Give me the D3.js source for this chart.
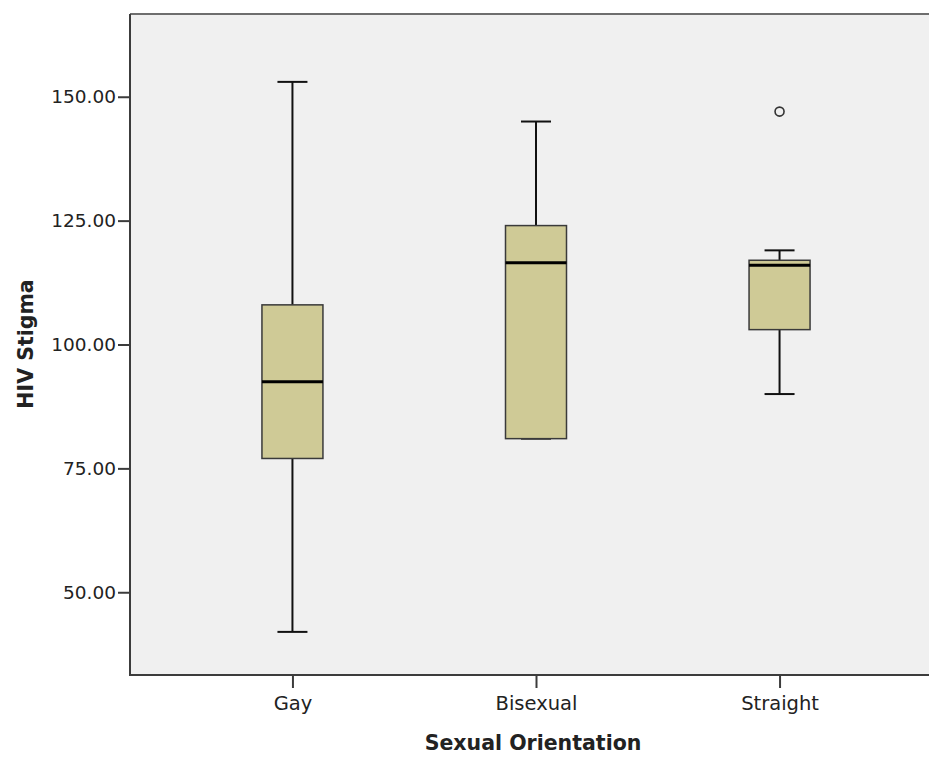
<!DOCTYPE html>
<html>
<head>
<meta charset="utf-8">
<script src="https://cdn.jsdelivr.net/npm/d3@7"></script>
<style>
  html, body { margin: 0; padding: 0; background: #fff; }
  svg { display: block; }
</style>
</head>
<body>
<svg id="chart" width="929" height="757"></svg>
<script>
const categories = ["Gay", "Bisexual", "Straight"];
const mins     = [42, 81, 90];
const q1s      = [77, 81, 103];
const medians  = [92.5, 116.5, 116];
const q3s      = [108, 124, 117];
const maxs     = [153, 145, 119];
const outliers = [[], [], [147]];
const yTicks   = [50, 75, 100, 125, 150];
const xTitle = "Sexual Orientation";
const yTitle = "HIV Stigma";

(function () {
const svg = d3.select("#chart");
const pLeft = 130, pRight = 942, pTop = 14, pBottom = 675;
const font = "'DejaVu Sans', Verdana, sans-serif";

const x = d3.scalePoint().domain(categories).range([pLeft, pRight]).padding(0.667);
const y = d3.scaleLinear().domain([33.3, 166.7]).range([pBottom, pTop]);

svg.append("rect").attr("x", pLeft).attr("y", pTop)
  .attr("width", pRight - pLeft).attr("height", pBottom - pTop)
  .attr("fill", "#f0f0f0");
svg.append("line").attr("x1", pLeft).attr("x2", pRight).attr("y1", pTop).attr("y2", pTop)
  .attr("stroke", "#6e6e6e").attr("stroke-width", 2);

const boxW = 61, capW = 30;
const data = categories.map((c, i) => ({c, min: mins[i], q1: q1s[i], med: medians[i], q3: q3s[i], max: maxs[i], out: outliers[i]}));

const g = svg.append("g");
data.forEach(d => {
  const cx = x(d.c);
  g.append("line").attr("x1", cx).attr("x2", cx).attr("y1", y(d.max)).attr("y2", y(d.q3))
    .attr("stroke", "#111").attr("stroke-width", 2);
  g.append("line").attr("x1", cx).attr("x2", cx).attr("y1", y(d.q1)).attr("y2", y(d.min))
    .attr("stroke", "#111").attr("stroke-width", 2);
  [d.max, d.min].forEach(v => {
    g.append("line").attr("x1", cx - capW / 2).attr("x2", cx + capW / 2)
      .attr("y1", y(v)).attr("y2", y(v))
      .attr("stroke", "#111").attr("stroke-width", 2);
  });
  g.append("rect").attr("x", cx - boxW / 2).attr("y", y(d.q3))
    .attr("width", boxW).attr("height", y(d.q1) - y(d.q3))
    .attr("fill", "#cfca96").attr("stroke", "#3a3a3a").attr("stroke-width", 1.5);
  g.append("line").attr("x1", cx - boxW / 2).attr("x2", cx + boxW / 2)
    .attr("y1", y(d.med)).attr("y2", y(d.med))
    .attr("stroke", "#000").attr("stroke-width", 3);
  d.out.forEach(v => {
    g.append("circle").attr("cx", cx).attr("cy", y(v)).attr("r", 4.5)
      .attr("fill", "none").attr("stroke", "#333").attr("stroke-width", 1.6);
  });
});

const yAxis = svg.append("g").attr("transform", `translate(${pLeft},0)`)
  .call(d3.axisLeft(y).tickValues(yTicks).tickFormat(d3.format(".2f")).tickSizeOuter(0).tickSize(12).tickPadding(2));
yAxis.select(".domain").attr("stroke", "#3c3c3c").attr("stroke-width", 2).attr("d", `M0,${pTop}V${pBottom}`);
yAxis.selectAll(".tick line").attr("stroke", "#3c3c3c").attr("stroke-width", 2);
yAxis.selectAll(".tick text").attr("fill", "#222").style("font-family", font).style("font-size", "18.5px");

const xAxis = svg.append("g").attr("transform", `translate(0,${pBottom})`)
  .call(d3.axisBottom(x).tickSizeOuter(0).tickSize(13).tickPadding(8));
xAxis.select(".domain").attr("stroke", "#3c3c3c").attr("stroke-width", 2).attr("d", `M${pLeft - 1},0H${pRight}`);
xAxis.selectAll(".tick line").attr("stroke", "#3c3c3c").attr("stroke-width", 2);
xAxis.selectAll(".tick text").attr("fill", "#222").style("font-family", font).style("font-size", "19.5px");

svg.append("text").attr("x", 533).attr("y", 750).attr("text-anchor", "middle")
  .style("font-family", font).style("font-size", "20.5px").style("font-weight", "bold")
  .attr("fill", "#222").text(xTitle);
svg.append("text").attr("transform", "translate(33,344) rotate(-90)").attr("text-anchor", "middle")
  .style("font-family", font).style("font-size", "20.5px").style("font-weight", "bold")
  .attr("fill", "#222").text(yTitle);
})();
</script>
</body>
</html>
